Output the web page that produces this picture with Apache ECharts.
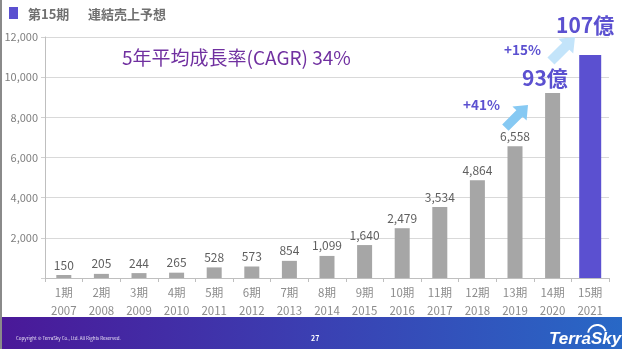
<!DOCTYPE html>
<html><head><meta charset="utf-8">
<script src="https://cdn.jsdelivr.net/npm/echarts@6/dist/echarts.min.js"></script>
<style>html,body{margin:0;padding:0;background:#fff}#c{width:622px;height:349px}</style>
</head><body><div id="c"></div>
<script>
const periods = ['1期','2期','3期','4期','5期','6期','7期','8期','9期','10期','11期','12期','13期','14期','15期'];
const years = ['2007','2008','2009','2010','2011','2012','2013','2014','2015','2016','2017','2018','2019','2020','2021'];
const actual = [150,205,244,265,528,573,854,1099,1640,2479,3534,4864,6558,9210,null];
const forecast = [null,null,null,null,null,null,null,null,null,null,null,null,null,null,11100];
const yTicks = [2000,4000,6000,8000,10000,12000];
const labelledCount = 13;

const FONT = '"Noto Sans CJK JP","Noto Sans",sans-serif';
const chart = echarts.init(document.getElementById('c'));

function arrow(tipX, tipY, len, shaftW, headW, headL, color) {
  const dx = Math.SQRT1_2, dy = -Math.SQRT1_2;
  const px = Math.SQRT1_2, py = Math.SQRT1_2;
  const bx = tipX - dx * headL, by = tipY - dy * headL;
  const tx = tipX - dx * len, ty = tipY - dy * len;
  const pts = [
    [tipX, tipY],
    [bx + px * headW / 2, by + py * headW / 2],
    [bx + px * shaftW / 2, by + py * shaftW / 2],
    [tx + px * shaftW / 2, ty + py * shaftW / 2],
    [tx - px * shaftW / 2, ty - py * shaftW / 2],
    [bx - px * shaftW / 2, by - py * shaftW / 2],
    [bx - px * headW / 2, by - py * headW / 2]
  ];
  return { type: 'polygon', shape: { points: pts }, style: { fill: color }, z: 10 };
}

const catLabels = periods.map((p, i) => p + '\n' + years[i]);

chart.setOption({
  animation: false,
  textStyle: { fontFamily: FONT },
  grid: { left: 45, right: 13, top: 37, bottom: 71 },
  xAxis: [{
    type: 'category', data: catLabels,
    axisLine: { lineStyle: { color: '#bfbfbf' } },
    axisTick: { show: true, length: 4, lineStyle: { color: '#bfbfbf' } },
    axisLabel: { color: '#8c8c8c', fontSize: 11.5, lineHeight: 18, margin: 6, fontFamily: FONT }
  }, {
    type: 'category', data: catLabels, show: false
  }],
  yAxis: {
    type: 'value', min: 0, max: 12000, interval: 2000,
    axisLine: { show: true, lineStyle: { color: '#bfbfbf' } },
    axisTick: { show: true, length: 4, lineStyle: { color: '#d0d0d0' } },
    splitLine: { lineStyle: { color: '#d9d9d9' } },
    axisLabel: { color: '#7f7f7f', fontSize: 11, margin: 7, fontFamily: FONT,
      formatter: v => yTicks.includes(v) ? v.toLocaleString('en-US') : '' }
  },
  series: [{
    type: 'bar', data: actual, barWidth: 15, xAxisIndex: 0,
    itemStyle: { color: '#a6a6a6' },
    label: { show: true, position: 'top', distance: 4, color: '#5f5f5f', fontSize: 12, fontFamily: FONT,
      formatter: p => p.dataIndex < labelledCount ? p.value.toLocaleString('en-US') : '' }
  }, {
    type: 'bar', data: forecast, barWidth: 22, xAxisIndex: 1,
    itemStyle: { color: '#5b50d0' }
  }],
  graphic: [
    { type: 'rect', shape: { x: 0, y: 0, width: 2, height: 349 }, style: { fill: '#8a8a8a' }, z: 20 },
    { type: 'rect', shape: { x: 9, y: 7, width: 9, height: 12 }, style: { fill: '#5b50d0' } },
    { type: 'text', x: 28, y: 14, style: { text: '第15期', font: 'bold 13px ' + FONT, fill: '#707070', textVerticalAlign: 'middle' } },
    { type: 'text', x: 88, y: 14, style: { text: '連結売上予想', font: 'bold 13px ' + FONT, fill: '#707070', textVerticalAlign: 'middle' } },
    { type: 'text', x: 122, y: 58, style: { text: '5年平均成長率(CAGR) 34%', font: '19px ' + FONT, fill: '#7030a0', textVerticalAlign: 'middle' } },
    { type: 'text', x: 463, y: 105, style: { text: '+41%', font: 'bold 13.5px ' + FONT, fill: '#5b50d0', textVerticalAlign: 'middle' } },
    { type: 'text', x: 504, y: 50, style: { text: '+15%', font: 'bold 13.5px ' + FONT, fill: '#5b50d0', textVerticalAlign: 'middle' } },
    { type: 'text', x: 522, y: 78, style: { text: '93億', font: 'bold 21px ' + FONT, fill: '#5b50d0', textVerticalAlign: 'middle' }, z: 11 },
    { type: 'text', x: 556, y: 25, style: { text: '107億', font: 'bold 21px ' + FONT, fill: '#5b50d0', textVerticalAlign: 'middle' }, z: 11 },
    arrow(528, 105, 32, 9, 20, 12, '#86c9f3'),
    arrow(575, 37, 34, 10, 21, 13, '#c3e4fa'),
    { type: 'rect', shape: { x: 0, y: 317, width: 622, height: 32 },
      style: { fill: new echarts.graphic.LinearGradient(0, 0, 1, 0, [
        { offset: 0, color: '#4a1898' }, { offset: 0.5, color: '#3b3fb2' }, { offset: 1, color: '#2868c6' }]) }, z: 5 },
    { type: 'text', x: 16, y: 338, style: { text: 'Copyright © TerraSky Co., Ltd. All Rights Reserved.', font: '4.5px ' + FONT, fill: '#e8e0f4', textVerticalAlign: 'middle' }, z: 6 },
    { type: 'text', x: 311, y: 338, style: { text: '27', font: 'bold 7px ' + FONT, fill: '#ffffff', textVerticalAlign: 'middle' }, z: 6 },
    { type: 'text', x: 549, y: 339, style: { text: 'TerraSky', font: 'italic bold 17px "Liberation Sans",Arial,sans-serif', fill: '#ffffff', textVerticalAlign: 'middle' }, z: 6 },
    { type: 'arc', shape: { cx: 597, cy: 334, r: 9, startAngle: Math.PI * 1.05, endAngle: Math.PI * 1.9 }, style: { stroke: '#ffffff', lineWidth: 2, fill: null }, z: 6 }
  ]
});
</script></body></html>
